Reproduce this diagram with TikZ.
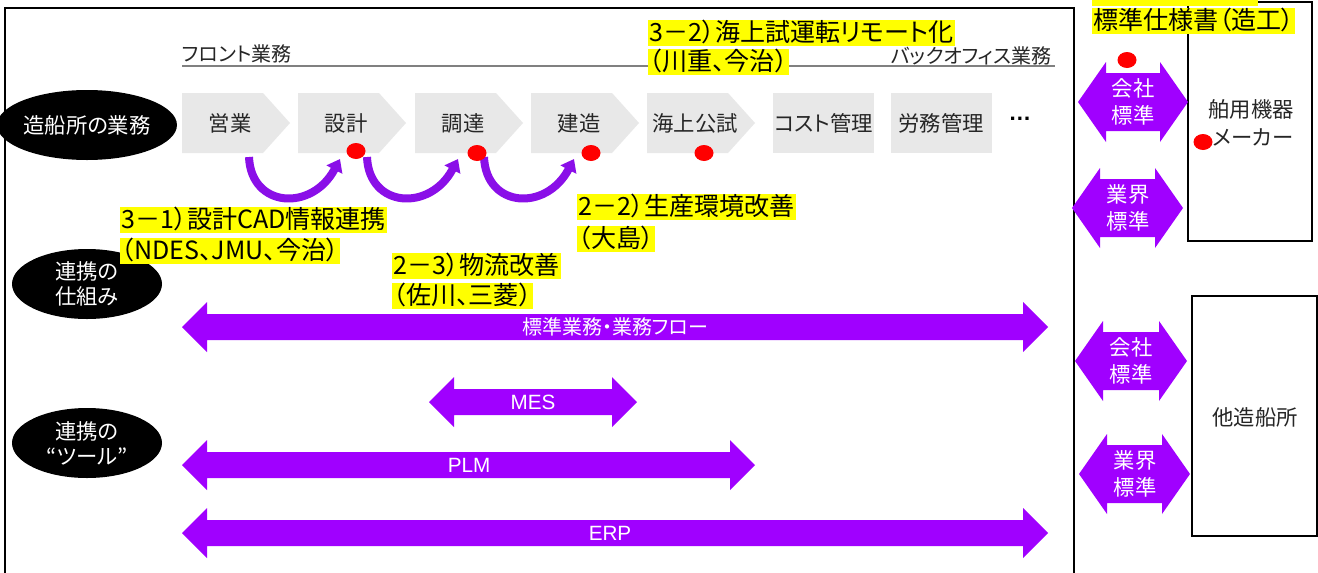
\documentclass[tikz,border=0pt]{standalone}
\usepackage{fontspec}
\setmainfont{Noto Sans CJK JP}[RawFeature=+palt]
\newfontfamily\arialfont{Liberation Sans}
\usetikzlibrary{arrows.meta,shapes.geometric}
\definecolor{vio}{HTML}{A000FF}
\definecolor{viomid}{HTML}{8A0FE8}
\definecolor{chev}{HTML}{E8E8E8}
\definecolor{hl}{HTML}{FFFF00}
\definecolor{dotred}{HTML}{FF0000}
\definecolor{linegray}{HTML}{808080}
% double arrow: x1 x2 y headlen headhalf shafthalf
\newcommand\dblarrow[6]{%
  \fill[vio] (#1,#3) -- (#1+#4,#3-#5) -- (#1+#4,#3-#6) -- (#2-#4,#3-#6) -- (#2-#4,#3-#5)
    -- (#2,#3) -- (#2-#4,#3+#5) -- (#2-#4,#3+#6) -- (#1+#4,#3+#6) -- (#1+#4,#3+#5) -- cycle;}
% process pentagon: name x text
\newcommand\procbox[3]{%
  \fill[chev] (#2,93) -- (#2+81,93) -- (#2+108,123) -- (#2+81,153) -- (#2,153) -- cycle;
  \node[proctext] (#1) at (#2+48,123) {#3};}
\tikzset{
  proctext/.style={font=\fontsize{16}{19}\selectfont, text=black!85, inner sep=0},
  hlbox/.style={fill=hl, anchor=west, inner xsep=1pt, inner ysep=0.5pt,
    text height=15.5pt, text depth=2.8pt, font=\fontsize{18.8}{21}\selectfont},
  blackell/.style={ellipse, fill=black, text=white, minimum width=112.5pt, minimum height=52.5pt,
    inner sep=0, align=center, font=\fontsize{16}{18.75}\selectfont},
  reddot/.style={ellipse, fill=dotred, minimum width=14.25pt, minimum height=12pt, inner sep=0},
  arrtext/.style={text=white, inner sep=0, font=\fontsize{15}{18}\selectfont},
  arrlatin/.style={text=white, inner sep=0, font=\arialfont\fontsize{15.5}{18}\selectfont},
  stdtext/.style={text=white, inner sep=0, align=center, font=\fontsize{16}{20}\selectfont},
  boxtext/.style={text=black!85, inner sep=0, align=center, font=\fontsize{16}{21}\selectfont},
  headtext/.style={text=black!85, inner sep=0, font=\fontsize{15}{17}\selectfont},
  curvearrow/.style={draw=viomid, line width=6pt, -{Triangle[length=9pt,width=13pt]}},
  frameline/.style={line width=1.5pt, draw=black},
}
\begin{document}
\begin{tikzpicture}[x=0.75pt,y=-0.75pt]
\useasboundingbox (0,0) rectangle (1318,572);
\clip (0,0) rectangle (1318,572);
\fill[white] (0,0) rectangle (1318,572);

% frames
\draw[frameline] (5,590) -- (5,8) -- (1074,8) -- (1074,590);
\draw[frameline] (1188,2) rectangle (1312,241);
\draw[frameline] (1192,296) rectangle (1317,536);

% front / back office headers
\draw[line width=1.5pt, draw=linegray] (182,66) -- (1055,66);
\node[headtext, anchor=west] (front) at (182,54) {フロント業務};
\node[headtext, anchor=east] (back) at (1052,56) {バックオフィス業務};

% process row
\procbox{eigyo}{182}{営業}
\procbox{sekkei}{298}{設計}
\procbox{chotatsu}{415}{調達}
\procbox{kenzo}{531}{建造}
\procbox{kaijo}{647}{海上公試}
\fill[chev] (773,93) rectangle (874,153);
\node[proctext] (cost) at (823.5,123) {コスト管理};
\fill[chev] (891,93) rectangle (992,153);
\node[proctext] (romu) at (941,123) {労務管理};
\node[inner sep=0, font=\arialfont\bfseries\fontsize{17}{20}\selectfont] (etc) at (1020,119) {…};

% left ellipses
\node[blackell] (gyomu) at (87,125) {造船所の業務};
\node[blackell] (shikumi) at (87,284) {連携の\\仕組み};
\node[blackell] (tool) at (87,443) {連携の\\“ツール”};

% curved arrows
\coordinate (a1s) at (249,157);
\coordinate (a1e) at (340,159);
\coordinate (a2s) at (367,157);
\coordinate (a2e) at (458,159);
\coordinate (a3s) at (484,157);
\coordinate (a3e) at (574,159);
\draw[curvearrow] (a1s) .. controls (251,208) and (312,212) .. (a1e);
\draw[curvearrow] (a2s) .. controls (369,208) and (430,212) .. (a2e);
\draw[curvearrow] (a3s) .. controls (486,208) and (546,212) .. (a3e);

% red dots
\node[reddot] (d1) at (356,151) {};
\node[reddot] (d2) at (477,153) {};
\node[reddot] (d3) at (591,153) {};
\node[reddot] (d4) at (704,153) {};
\node[reddot] (d5) at (1127,60) {};
\node[reddot] (d6) at (1203,142) {};

% yellow labels
\node[hlbox] (l1a) at (648,33) {3－2）海上試運転リモート化};
\node[hlbox] (l1b) at (648,62) {（川重、今治）};
\node[hlbox] (l2a) at (120,220) {3－1）設計CAD情報連携};
\node[hlbox] (l2b) at (120,251) {（NDES、JMU、今治）};
\node[hlbox] (l3a) at (577,207) {2－2）生産環境改善};
\node[hlbox] (l3b) at (577,239) {（大島）};
\node[hlbox] (l4a) at (392,266) {2－3）物流改善};
\node[hlbox] (l4b) at (392,296) {（佐川、三菱）};
\fill[hl] (1092,0) rectangle (1258,6);
\node[hlbox] (l5b) at (1092,21) {標準仕様書（造工）};

% long arrows
\dblarrow{182}{1048}{327}{25}{25}{13}
\node[arrtext] (stdflow) at (615,327) {標準業務・業務フロー};
\dblarrow{429}{637}{402}{25}{25}{13}
\node[arrlatin] (mes) at (533,402) {MES};
\dblarrow{182}{755}{465}{25}{25}{13}
\node[arrlatin] (plm) at (469,465) {PLM};
\dblarrow{182}{1048}{533}{25}{25}{13}
\node[arrlatin] (erp) at (610,533) {ERP};

% right side standard arrows
\dblarrow{1078}{1188}{102}{28}{40}{29}
\node[stdtext] (s1) at (1133,102) {会社\\標準};
\dblarrow{1072}{1183}{208}{28}{40}{29}
\node[stdtext] (s2) at (1128,208) {業界\\標準};
\dblarrow{1075}{1187}{361}{28}{40}{29}
\node[stdtext] (s3) at (1131,361) {会社\\標準};
\dblarrow{1079}{1190}{474}{28}{40}{29}
\node[stdtext] (s4) at (1135,474) {業界\\標準};

% right boxes text
\node[boxtext] (maker) at (1251,123) {舶用機器\\\hspace*{3pt}メーカー};
\node[boxtext] (other) at (1255,417) {他造船所};
\end{tikzpicture}
\end{document}
